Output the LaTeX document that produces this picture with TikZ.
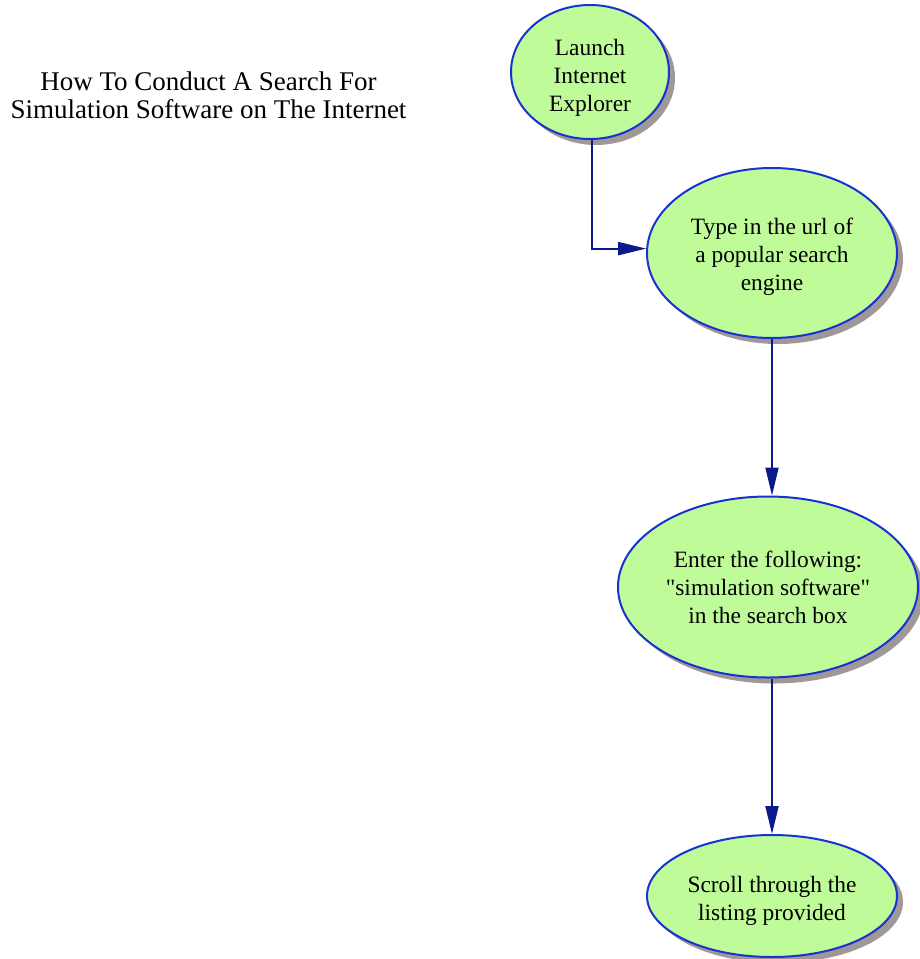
\documentclass[tikz,border=0pt]{standalone}
\usepackage{fontspec}
\setmainfont{Liberation Serif}
\usetikzlibrary{shapes.geometric,arrows.meta,shadows}
\definecolor{nodefill}{RGB}{191,252,153}
\definecolor{nodeline}{RGB}{25,50,210}
\definecolor{arrowcol}{RGB}{10,25,140}
\definecolor{shadowcol}{RGB}{160,152,152}
\newcommand{\toplift}[1]{\rule{0pt}{#1}}
\tikzset{
  stepnode/.style={ellipse, draw=nodeline, line width=2pt, fill=nodefill,
    inner sep=0pt, align=center,
    font=\fontsize{23.4}{28}\selectfont,
    drop shadow={shadow xshift=6pt, shadow yshift=-6pt, fill=shadowcol, opacity=1}},
  flow/.style={draw=arrowcol, line width=2pt,
    -{Triangle[length=28pt,width=13pt]}},
  titletext/.style={align=center, font=\fontsize{27}{28}\selectfont, inner sep=0pt}
}
\begin{document}
\begin{tikzpicture}[x=1pt,y=-1pt]
\useasboundingbox (0,0) rectangle (920,959);
\node[titletext] (title) at (208.5,95) {How To Conduct A Search For\\Simulation Software on The Internet};
\node[stepnode, minimum width=158pt, minimum height=134pt] (n1) at (590,72) {\toplift{28pt}Launch\\Internet\\Explorer};
\node[stepnode, minimum width=250pt, minimum height=170pt] (n2) at (772,253) {\toplift{24pt}Type in the url of\\a popular search\\engine};
\node[stepnode, minimum width=300pt, minimum height=181pt] (n3) at (768,587) {Enter the following:\\\textquotedbl simulation software\textquotedbl\\in the search box};
\node[stepnode, minimum width=250pt, minimum height=122pt] (n4) at (772,896) {\toplift{26pt}Scroll through the\\listing provided};
\draw[flow] ([xshift=2pt]n1.south) |- (n2.178);
\draw[flow] (n2.south) -- (n2.south |- n3.north);
\draw[flow] (n3.south -| n4.north) -- (n4.north);
\end{tikzpicture}
\end{document}
